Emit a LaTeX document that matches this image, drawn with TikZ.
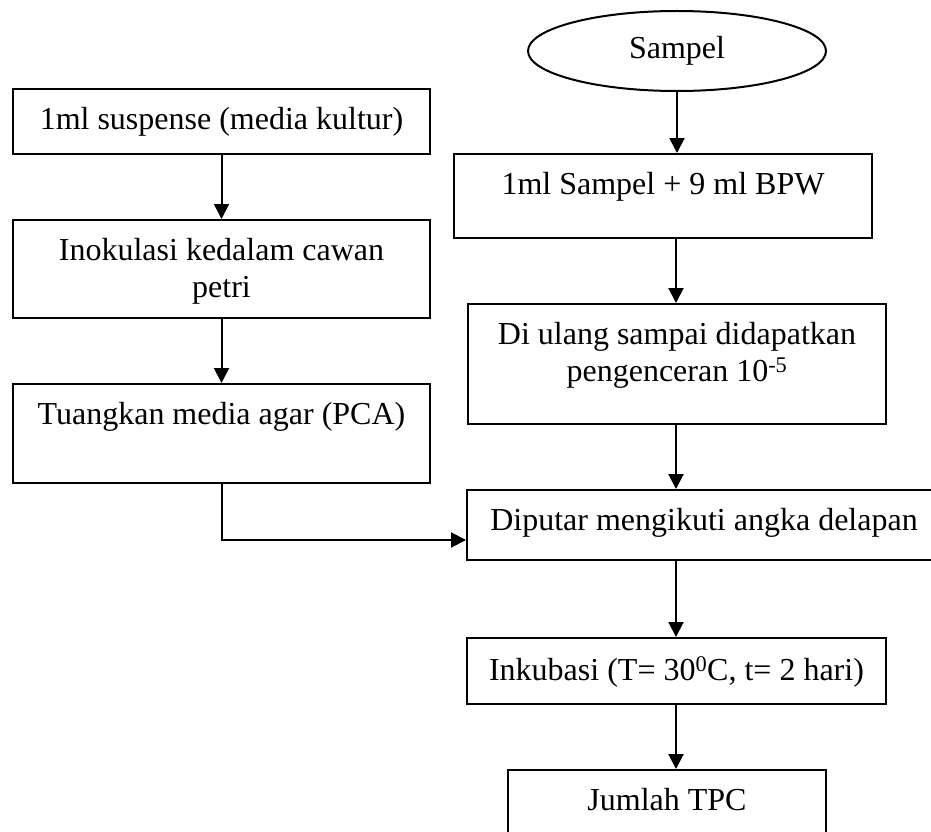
\documentclass[tikz,border=0pt]{standalone}
\usepackage{fontspec}
\setmainfont{Liberation Serif}
\usetikzlibrary{shapes.geometric,arrows.meta,positioning}

\begin{document}
\begin{tikzpicture}[x=1pt, y=-1pt,
    kotak/.style ={rectangle, draw, line width=2pt, inner sep=0pt},
    elips/.style ={ellipse, draw, line width=2pt, inner sep=0pt,
                   minimum width=298pt, minimum height=80pt,
                   font=\fontsize{32}{37.5}\selectfont},
    teks/.style ={inner sep=0pt, align=center, font=\fontsize{32}{37.5}\selectfont},
    panah/.style ={line width=2pt, -{Triangle[length=15pt,width=15pt]}}]
   \useasboundingbox (0,0) rectangle (931,832);
   % kolom kiri
   \node[kotak, minimum width=417pt, minimum height=65pt] (suspensi) at (221.5,121.5) {};
   \node[kotak, minimum width=417pt, minimum height=98pt] (inokulasi) at (221.5,269) {};
   \node[kotak, minimum width=417pt, minimum height=99pt] (tuang) at (221.5,433.5) {};
   % kolom kanan
   \node[elips] (sampel) at (677,51) {Sampel};
   \node[kotak, minimum width=418pt, minimum height=84pt] (bpw) at (663,196) {};
   \node[kotak, minimum width=418pt, minimum height=120pt] (ulang) at (677,364) {};
   \node[kotak, minimum width=474pt, minimum height=70pt] (putar) at (704,525) {};
   \node[kotak, minimum width=419pt, minimum height=66pt] (inkubasi) at (676.5,671) {};
   \node[kotak, minimum width=318pt, minimum height=66pt] (tpc) at (667,803) {};
   % teks dalam kotak
   \node[teks, below=19pt of suspensi.north] (t-suspensi) {1ml suspense (media kultur)};
   \node[teks, below=19pt of inokulasi.north] (t-inokulasi) {Inokulasi kedalam cawan\\petri};
   \node[teks, below=19pt of tuang.north] (t-tuang) {Tuangkan media agar (PCA)};
   \node[teks, below=19pt of bpw.north] (t-bpw) {1ml Sampel + 9 ml BPW};
   \node[teks, below=19pt of ulang.north] (t-ulang) {Di ulang sampai didapatkan\\pengenceran 10\textsuperscript{-5}};
   \node[teks, below=19pt of putar.north] (t-putar) {Diputar mengikuti angka delapan};
   \node[teks, below=19pt of inkubasi.north] (t-inkubasi) {Inkubasi (T= 30\textsuperscript{0}C, t= 2 hari)};
   \node[teks, below=19pt of tpc.north] (t-tpc) {Jumlah TPC};
   % panah
   \coordinate (jalur) at (676,0);
   \coordinate (belok) at (221.5,540);
   \draw[panah] (suspensi.south) -- (inokulasi.north);
   \draw[panah] (inokulasi.south) -- (tuang.north);
   \draw[panah] (tuang.south) -- (belok) -- (belok -| putar.west);
   \draw[panah] (sampel.south) -- (sampel.south |- bpw.north);
   \draw[panah] (jalur |- bpw.south) -- (jalur |- ulang.north);
   \draw[panah] (jalur |- ulang.south) -- (jalur |- putar.north);
   \draw[panah] (jalur |- putar.south) -- (jalur |- inkubasi.north);
   \draw[panah] (jalur |- inkubasi.south) -- (jalur |- tpc.north);
\end{tikzpicture}
\end{document}
